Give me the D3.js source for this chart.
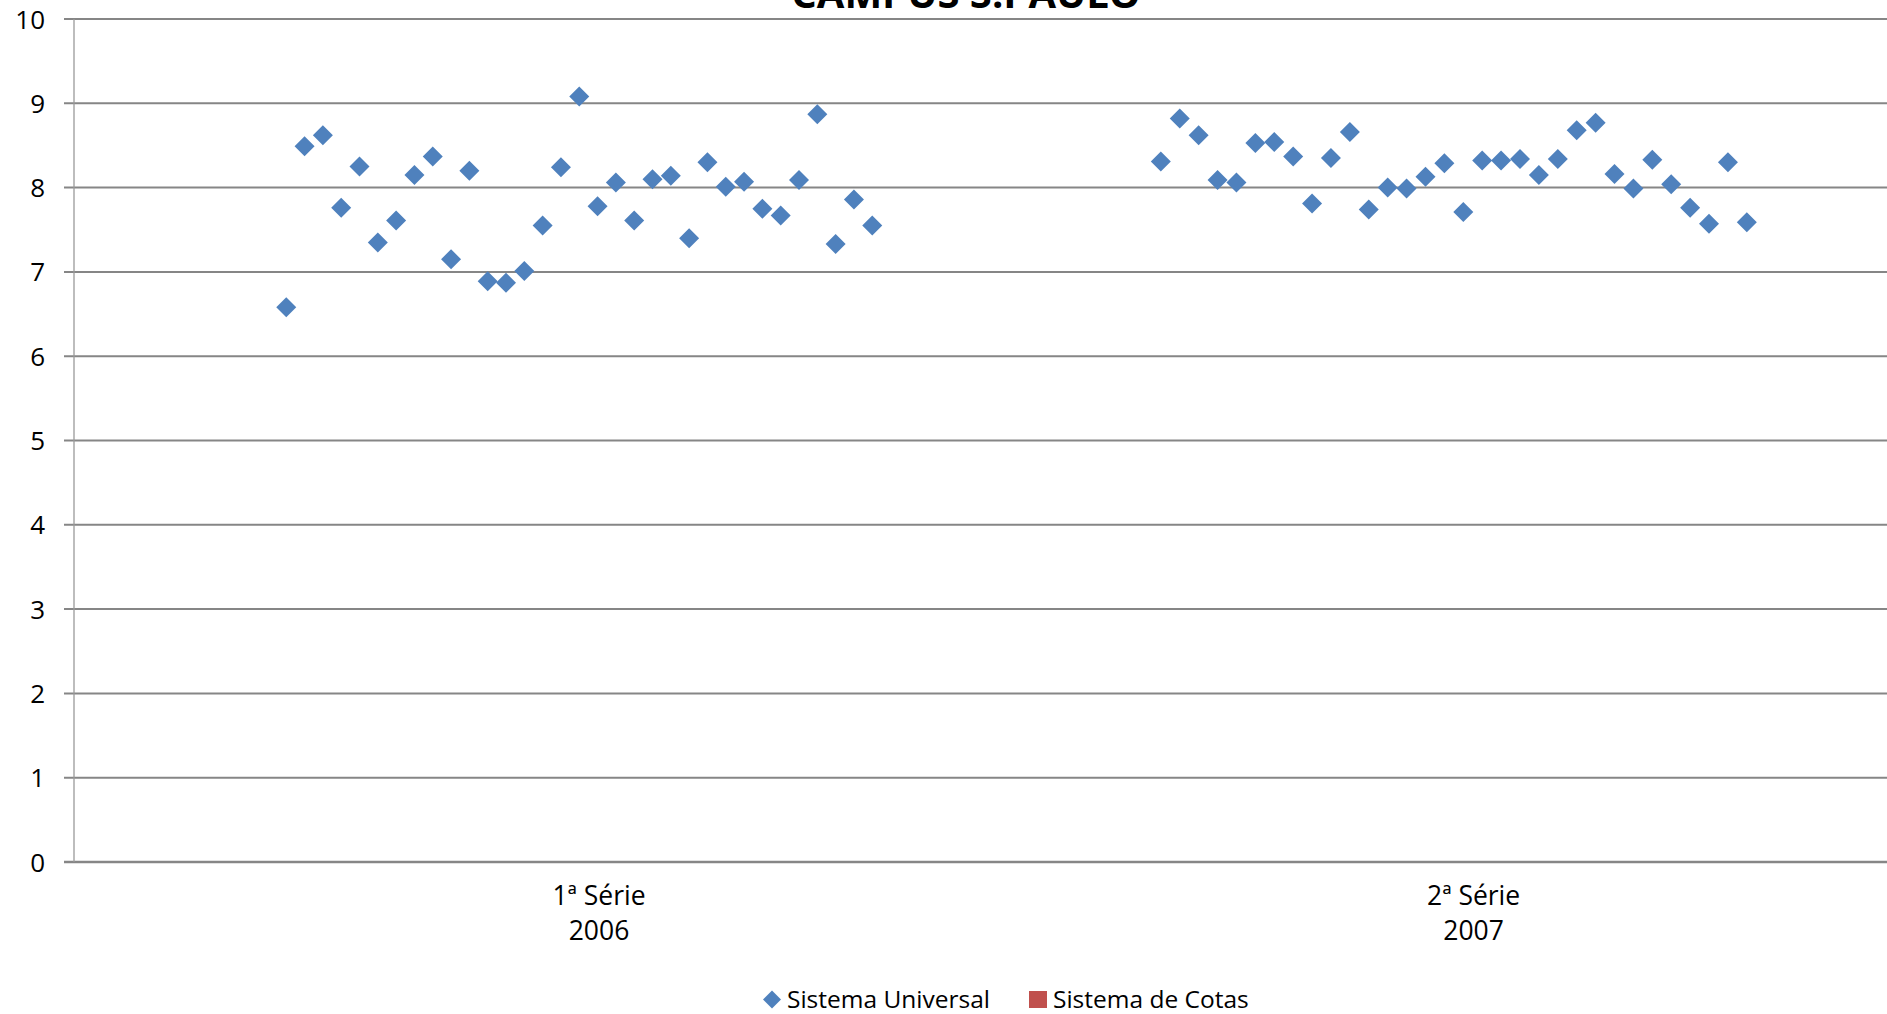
<!DOCTYPE html>
<html>
<head>
<meta charset="utf-8">
<script src="https://cdn.jsdelivr.net/npm/d3@7"></script>
<style>
  html, body { margin: 0; padding: 0; background: #ffffff; overflow: hidden; }
  svg { display: block; font-family: "Open Sans", "Liberation Sans", sans-serif; }
</style>
</head>
<body>
<svg id="chart" width="1887" height="1014"></svg>
<script>
// ---------- data ----------
const chartTitle = "CAMPUS S.PAULO";
const categories = ["1ª Série", "2ª Série"];
const categoryYears = ["2006", "2007"];
const seriesNames = ["Sistema Universal", "Sistema de Cotas"];
const seriesColors = ["#4F81BD", "#C0504D"];
const yTicks = [0, 1, 2, 3, 4, 5, 6, 7, 8, 9, 10];

// Sistema Universal – grades per student, 1ª Série 2006
const universal1 = [6.58, 8.49, 8.62, 7.76, 8.25, 7.35, 7.61, 8.15, 8.37, 7.15, 8.20,
  6.89, 6.87, 7.01, 7.55, 8.24, 9.08, 7.78, 8.06, 7.61, 8.10, 8.14, 7.40, 8.30, 8.01,
  8.07, 7.75, 7.67, 8.09, 8.87, 7.33, 7.86, 7.55];
// Sistema Universal – 2ª Série 2007
const universal2 = [8.31, 8.82, 8.62, 8.09, 8.06, 8.53, 8.54, 8.37, 7.81, 8.35, 8.66,
  7.74, 8.00, 7.99, 8.13, 8.29, 7.71, 8.32, 8.32, 8.34, 8.15, 8.34, 8.68, 8.77, 8.16,
  7.99, 8.33, 8.04, 7.76, 7.57, 8.30, 7.59];
// Sistema de Cotas – no points visible
const cotas1 = [];
const cotas2 = [];

const groups = [
  { cat: categories[0], year: categoryYears[0], universal: universal1, cotas: cotas1 },
  { cat: categories[1], year: categoryYears[1], universal: universal2, cotas: cotas2 }
];

// ---------- layout ----------
const svg = d3.select("#chart");
const W = 1887, H = 1014;
const plotLeft = 74, plotTop = 19, plotBottom = 862;

const y = d3.scaleLinear().domain([0, 10]).range([plotBottom, plotTop]);
const xBand = d3.scaleBand().domain(categories).range([161.7, 161.7 + 2 * 874.6]).paddingInner(0).paddingOuter(0);

// gridlines
const gridColor = "#868686";
svg.append("g").selectAll("line").data(yTicks).join("line")
  .attr("x1", plotLeft - 10).attr("x2", W + 10)
  .attr("y1", d => y(d)).attr("y2", d => y(d))
  .attr("stroke", gridColor).attr("stroke-width", d => d === 0 ? 2.3 : 2);

// y axis line
svg.append("line")
  .attr("x1", plotLeft).attr("x2", plotLeft)
  .attr("y1", y(10)).attr("y2", y(0))
  .attr("stroke", "#9a9a9a").attr("stroke-width", 1.3);

// y tick labels
svg.append("g").selectAll("text").data(yTicks).join("text")
  .attr("x", 45).attr("y", d => y(d) + 9.5)
  .attr("text-anchor", "end")
  .attr("font-size", 26).attr("fill", "#000")
  .text(d => d);

// category labels
const catLabels = svg.append("g");
groups.forEach(g => {
  const cx = xBand(g.cat) + xBand.bandwidth() / 2;
  catLabels.append("text").attr("x", cx).attr("y", 905)
    .attr("text-anchor", "middle").attr("font-size", 26.5).text(g.cat);
  catLabels.append("text").attr("x", cx).attr("y", 940)
    .attr("text-anchor", "middle").attr("font-size", 26.5).text(g.year);
});

// markers
const diamond = d3.symbol().type(d3.symbolSquare).size(200);
const marks = svg.append("g");
groups.forEach(g => {
  const b0 = xBand(g.cat), bw = xBand.bandwidth();
  const xi = d3.scalePoint().domain(d3.range(g.universal.length))
    .range([b0 + bw * 0.1424, b0 + bw * 0.8124]);
  marks.append("g").selectAll("path").data(g.universal).join("path")
    .attr("d", diamond)
    .attr("transform", (d, i) => `translate(${xi(i)},${y(d)}) rotate(45)`)
    .attr("fill", seriesColors[0]);
  const xc = d3.scalePoint().domain(d3.range(g.cotas.length))
    .range([b0 + bw * 0.1424, b0 + bw * 0.8124]);
  marks.append("g").selectAll("path").data(g.cotas).join("path")
    .attr("d", d3.symbol().type(d3.symbolSquare).size(200))
    .attr("transform", (d, i) => `translate(${xc(i)},${y(d)})`)
    .attr("fill", seriesColors[1]);
});

// title (cut off at top as in reference)
svg.append("text")
  .attr("x", 966).attr("y", 8)
  .attr("text-anchor", "middle")
  .attr("font-size", 40).attr("font-weight", "bold")
  .text(chartTitle);

// legend
const legend = svg.append("g");
legend.append("path")
  .attr("d", d3.symbol().type(d3.symbolSquare).size(162))
  .attr("transform", "translate(772,999.5) rotate(45)")
  .attr("fill", seriesColors[0]);
legend.append("text").attr("x", 787).attr("y", 1008)
  .attr("font-size", 24.5).text(seriesNames[0]);
legend.append("rect").attr("x", 1029).attr("y", 991).attr("width", 18).attr("height", 17)
  .attr("fill", seriesColors[1]);
legend.append("text").attr("x", 1053).attr("y", 1008)
  .attr("font-size", 24.5).text(seriesNames[1]);
</script>
</body>
</html>
